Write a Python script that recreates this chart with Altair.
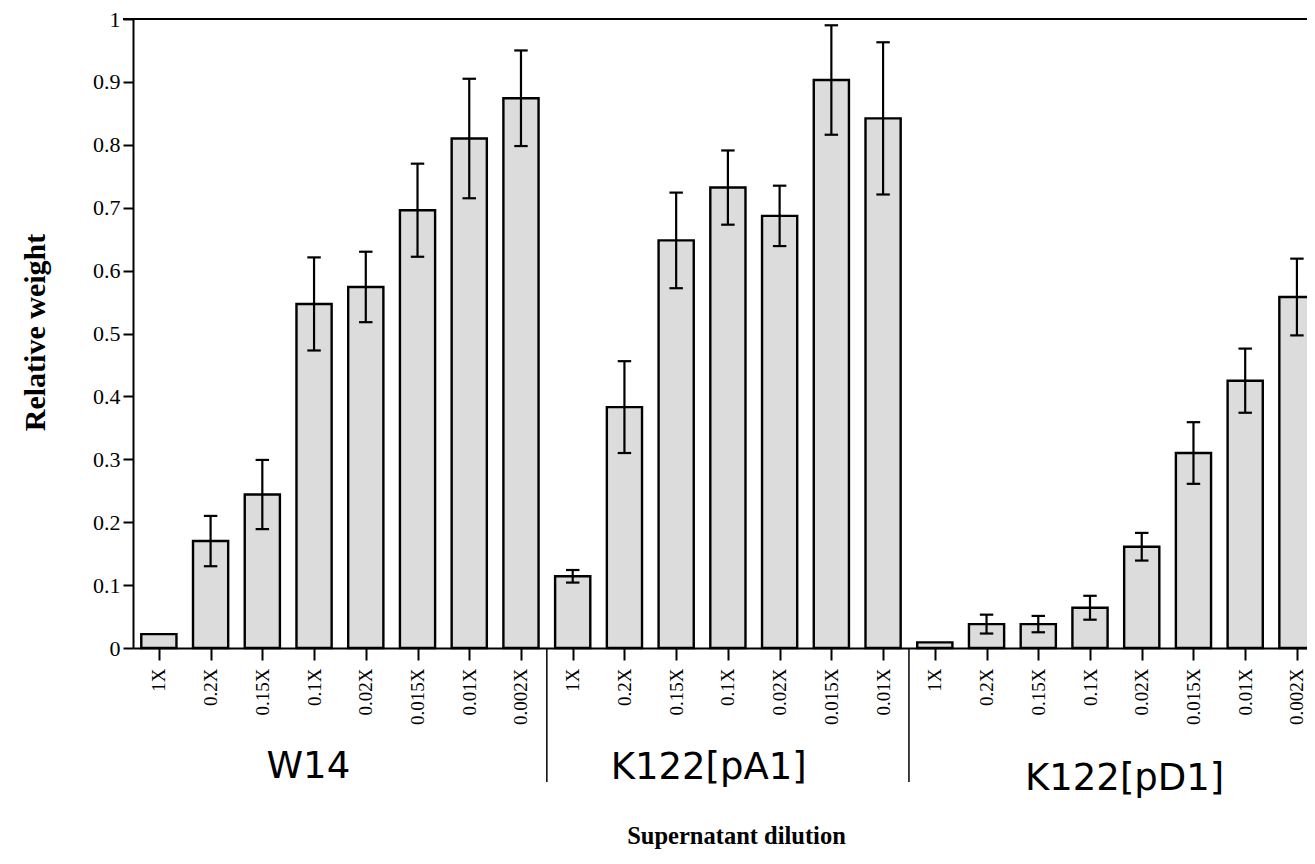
import json
import altair as alt
import pandas as pd

# ---- data ----
group_names = ["W14", "K122[pA1]", "K122[pD1]"]

w14_labels = ["1X", "0.2X", "0.15X", "0.1X", "0.02X", "0.015X", "0.01X", "0.002X"]
w14_values = [0.022, 0.170, 0.244, 0.547, 0.574, 0.696, 0.810, 0.874]
w14_errors = [0.0, 0.040, 0.055, 0.074, 0.056, 0.074, 0.095, 0.076]

pa1_labels = ["1X", "0.2X", "0.15X", "0.1X", "0.02X", "0.015X", "0.01X"]
pa1_values = [0.114, 0.383, 0.648, 0.732, 0.687, 0.903, 0.842]
pa1_errors = [0.010, 0.073, 0.076, 0.059, 0.048, 0.087, 0.121]

pd1_labels = ["1X", "0.2X", "0.15X", "0.1X", "0.02X", "0.015X", "0.01X", "0.002X"]
pd1_values = [0.009, 0.038, 0.038, 0.064, 0.161, 0.310, 0.425, 0.558]
pd1_errors = [0.0, 0.015, 0.013, 0.019, 0.022, 0.049, 0.051, 0.061]

y_ticks = [0, 0.1, 0.2, 0.3, 0.4, 0.5, 0.6, 0.7, 0.8, 0.9, 1]

# ---- styling ----
TOP = 19                      # page y of the plot top
W, H = 1174, 629
SLOT = 51.73
BAR_HALF = 0.34
CAP_HALF = 0.13
SERIF = "Liberation Serif"
SANS = "DejaVu Sans"

rows = []
bounds = []
centers = []
i = 0
for g, labs, vals, errs in zip(group_names,
                               [w14_labels, pa1_labels, pd1_labels],
                               [w14_values, pa1_values, pd1_values],
                               [w14_errors, pa1_errors, pd1_errors]):
    start = i
    for lab, v, e in zip(labs, vals, errs):
        rows.append(dict(i=i, group=g, label=lab, value=v, err=e,
                         lo=v - e, hi=v + e,
                         x0=i - BAR_HALF, x1=i + BAR_HALF,
                         c0=i - CAP_HALF, c1=i + CAP_HALF))
        i += 1
    centers.append((start + i - 1) / 2)
    bounds.append(i - 0.5)
df = pd.DataFrame(rows)
all_labels = list(df["label"])
n = len(df)

x_scale = alt.Scale(domain=[-0.5, -0.5 + W / SLOT], nice=False, zero=False)
y_scale = alt.Scale(domain=[0, 1], nice=False, zero=True)

x_axis = alt.Axis(
    values=list(range(n)),
    labelExpr=f"{json.dumps(all_labels)}[datum.value]",
    labelAngle=270, labelAlign="right", labelBaseline="middle",
    labelFont=SERIF, labelFontSize=19, labelColor="black", labelPadding=8,
    labelOverlap=False, labelFlush=False, labelBound=False,
    tickSize=12, tickWidth=2, tickColor="black",
    domainColor="black", domainWidth=2, grid=False,
    titleFont=SERIF, titleFontSize=24.5, titleFontWeight="bold", titleColor="black",
    titleX=603, titleY=188, titleAlign="center", titleBaseline="middle",
)
y_axis = alt.Axis(
    values=y_ticks, format="~g",
    labelFont=SERIF, labelFontSize=22, labelColor="black", labelPadding=3,
    tickSize=10, tickWidth=2, tickColor="black",
    domainColor="black", domainWidth=2, grid=False,
    titleFont=SERIF, titleFontSize=30, titleFontWeight="bold", titleColor="black",
    titleAngle=270, titleX=-98, titleY=313, titleAlign="center", titleBaseline="middle",
)

bars = alt.Chart(df).mark_rect(fill="#dcdcdc", stroke="black", strokeWidth=2.4).encode(
    x=alt.X("x0:Q", scale=x_scale, axis=x_axis, title="Supernatant dilution"),
    x2="x1:Q",
    y=alt.Y("value:Q", scale=y_scale, axis=y_axis, title="Relative weight"),
    y2=alt.datum(0),
)

err_df = df[df["err"] > 0]
whisk = alt.Chart(err_df).mark_rule(color="black", strokeWidth=2.2).encode(
    x="i:Q", y="lo:Q", y2="hi:Q")
cap_hi = alt.Chart(err_df).mark_rule(color="black", strokeWidth=2.2).encode(
    x="c0:Q", x2="c1:Q", y="hi:Q")
cap_lo = alt.Chart(err_df).mark_rule(color="black", strokeWidth=2.2).encode(
    x="c0:Q", x2="c1:Q", y="lo:Q")

top_line = alt.Chart(pd.DataFrame({"v": [1]})).mark_rule(color="black", strokeWidth=2).encode(
    y="v:Q", x=alt.value(-10), x2=alt.value(W))

sep_df = pd.DataFrame({"b": bounds[:-1]})
seps = alt.Chart(sep_df).mark_rule(color="black", strokeWidth=1.5).encode(
    x="b:Q", y=alt.value(H), y2=alt.value(782 - TOP))

label_dx = [-0.61, -0.37, 0.17]
label_py = [767, 768, 779]
glab_df = pd.DataFrame({"name": group_names,
                        "cx": [c + d for c, d in zip(centers, label_dx)],
                        "py": [p - TOP for p in label_py]})
glabels = alt.Chart(glab_df).mark_text(font=SANS, fontSize=37, color="black",
                                       align="center", baseline="middle").encode(
    x="cx:Q", y=alt.Y("py:Q", scale=None), text="name:N")

chart = alt.layer(bars, whisk, cap_hi, cap_lo, top_line, seps, glabels).properties(
    width=W, height=H,
    autosize=alt.AutoSizeParams(type="none"),
    padding={"left": 125, "top": TOP - 8, "right": 0, "bottom": 856 - TOP - H},
    background="white",
).configure_view(stroke=None)

chart.save("out.html", embed_options={"renderer": "svg", "actions": False})
